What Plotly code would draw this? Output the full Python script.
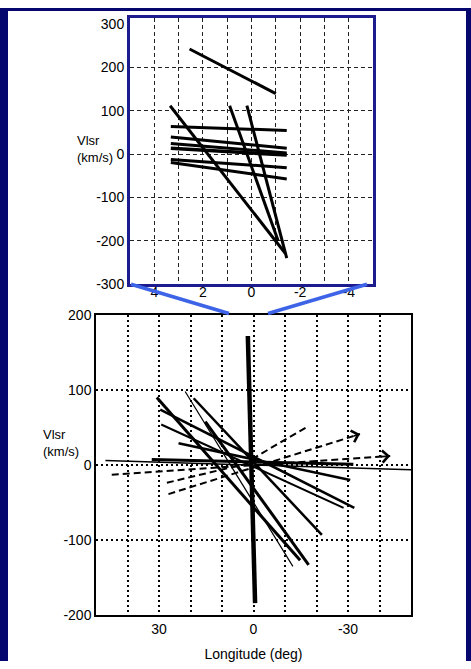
import plotly.graph_objects as go

W, H = 471, 669

# ---------- inset: central +/-5 deg of the longitude-velocity diagram ----------
inset_lon_start = [2.55, 3.35, 0.90, 0.19, 3.32, 3.32, 3.32, 3.32, 3.32, 3.32]
inset_vel_start = [243, 112, 112, 112, 64, 40, 25, 14, -12, -19]
inset_lon_end = [-1.00, -1.38, -1.10, -1.45, -1.45, -1.45, -1.45, -1.45, -1.45, -1.45]
inset_vel_end = [140, -228, -200, -240, 55, 14, 3, -2, -31, -57]
inset_width = [3, 3, 3, 3, 3, 3, 3, 3.5, 3, 3]

inset_xticks = [4, 2, 0, -2, -4]
inset_xgrid = [4, 3, 2, 1, 0, -1, -2, -3, -4]
inset_yticks = [-300, -200, -100, 0, 100, 200, 300]
inset_ygrid = [-200, -100, 0, 100, 200]

# ---------- full diagram: solid features ----------
solid_lon_start = [1.8, 30.7, 15.3, 21.7, 19.0, 29.6, 29.3, 23.8, 47.0, 32.3]
solid_vel_start = [172, 90, 58, 98, 89, 74, 54, 29, 6, 7.5]
solid_lon_end = [-0.5, -14.8, -17.5, -12.5, -21.7, -32.0, -28.6, -30.7, -50.6, -31.7]
solid_vel_end = [-184, -127, -133, -135, -93, -57, -57, -20, -6.5, 1]
solid_width = [4.5, 3, 3, 1.2, 2.5, 2.5, 2, 2.5, 1.5, 3]

# ---------- full diagram: dashed features (some with arrow heads) ----------
dashed_lon_start = [45.0, 27.0, 0.5, 27.5]
dashed_vel_start = [-12.8, -38.7, 8, -23.6]
dashed_lon_end = [-43.4, -33.8, -17.5, 0.0]
dashed_vel_end = [12, 41.3, 52, 4]
dashed_arrow = [True, True, False, False]

main_xticks = [30, 0, -30]
main_xgrid = [40, 30, 20, 10, 0, -10, -20, -30, -40]
main_yticks = [-200, -100, 0, 100, 200]

FONT = "Liberation Sans, Arial, sans-serif"
NAVY = "#06066f"
FRAME_BLUE = "#1c1c8e"
LINK_BLUE = "#3d63e6"

fig = go.Figure()

for i in range(len(inset_lon_start)):
    fig.add_trace(go.Scatter(
        x=[inset_lon_start[i], inset_lon_end[i]],
        y=[inset_vel_start[i], inset_vel_end[i]],
        mode="lines", line=dict(color="black", width=inset_width[i]),
        xaxis="x", yaxis="y", showlegend=False, hoverinfo="skip"))

for i in range(len(solid_lon_start)):
    fig.add_trace(go.Scatter(
        x=[solid_lon_start[i], solid_lon_end[i]],
        y=[solid_vel_start[i], solid_vel_end[i]],
        mode="lines", line=dict(color="black", width=solid_width[i]),
        xaxis="x2", yaxis="y2", showlegend=False, hoverinfo="skip"))

for i in range(len(dashed_lon_start)):
    fig.add_trace(go.Scatter(
        x=[dashed_lon_start[i], dashed_lon_end[i]],
        y=[dashed_vel_start[i], dashed_vel_end[i]],
        mode="lines", line=dict(color="black", width=2, dash="7px,4px"),
        xaxis="x2", yaxis="y2", showlegend=False, hoverinfo="skip"))
    if dashed_arrow[i]:
        dx = dashed_lon_end[i] - dashed_lon_start[i]
        dy = dashed_vel_end[i] - dashed_vel_start[i]
        fig.add_annotation(
            x=dashed_lon_end[i], y=dashed_vel_end[i],
            ax=dashed_lon_end[i] - 0.04 * dx, ay=dashed_vel_end[i] - 0.04 * dy,
            xref="x2", yref="y2", axref="x2", ayref="y2",
            text="", showarrow=True, arrowhead=4, arrowsize=1.3,
            arrowwidth=1.8, arrowcolor="black")

tick_font = dict(family=FONT, size=14, color="black")

fig.update_layout(
    width=W, height=H,
    margin=dict(l=0, r=0, t=0, b=0),
    paper_bgcolor="white", plot_bgcolor="white",
    showlegend=False,
    xaxis=dict(
        domain=[130 / W, 373 / W], anchor="y",
        range=[5, -5], tickvals=inset_xticks, ticktext=[str(v) for v in inset_xticks],
        showgrid=False, zeroline=False, ticks="", tickfont=tick_font,
        ticklabelstandoff=-7,
        showline=True, mirror=True, linecolor=FRAME_BLUE, linewidth=3,
        minor=dict(tickvals=inset_xgrid, showgrid=True, gridcolor="#222",
                   griddash="4px,3px", gridwidth=1, ticks=""),
    ),
    yaxis=dict(
        domain=[1 - 283 / H, 1 - 10 / H], anchor="x",
        range=[-300, 315], tickvals=inset_yticks, ticktext=[str(v) for v in inset_yticks],
        showgrid=False, zeroline=False, ticks="", tickfont=tick_font,
        showline=True, mirror=True, linecolor=FRAME_BLUE, linewidth=3,
        minor=dict(tickvals=inset_ygrid, showgrid=True, gridcolor="#222",
                   griddash="4px,3px", gridwidth=1, ticks=""),
    ),
    xaxis2=dict(
        domain=[96 / W, 411 / W], anchor="y2",
        range=[50, -50], tickvals=main_xticks, ticktext=[str(v) for v in main_xticks],
        showgrid=False, zeroline=False, ticks="", tickfont=tick_font,
        showline=True, mirror=True, linecolor="black", linewidth=1.5,
        minor=dict(tickvals=main_xgrid, showgrid=True, gridcolor="black",
                   griddash="2px,3px", gridwidth=1.5, ticks=""),
        title=dict(text="Longitude (deg)", font=dict(family=FONT, size=14, color="black"),
                   standoff=14),
    ),
    yaxis2=dict(
        domain=[1 - 622 / H, 1 - 314.5 / H], anchor="x2",
        range=[-200, 200], tickvals=main_yticks, ticktext=[str(v) for v in main_yticks],
        showgrid=True, gridcolor="black", griddash="2px,3px", gridwidth=1.5,
        zeroline=False, ticks="", tickfont=tick_font,
        showline=True, mirror=True, linecolor="black", linewidth=1.5,
    ),
)

# navy page border on the left, top and right edges
for x0, x1, y0, y1 in [(0, 8, 0, H), (0, W, 0, 3), (466, W, 0, H)]:
    fig.add_shape(type="rect", xref="paper", yref="paper",
                  x0=x0 / W, x1=x1 / W, y0=1 - y1 / H, y1=1 - y0 / H,
                  fillcolor=NAVY, line=dict(width=0), layer="below")

# zoom connectors from the inset to the full diagram
fig.add_shape(type="line", xref="paper", yref="paper",
              x0=131 / W, y0=1 - 283 / H, x1=229 / W, y1=1 - 313 / H,
              line=dict(color=LINK_BLUE, width=3.5))
fig.add_shape(type="line", xref="paper", yref="paper",
              x0=367 / W, y0=1 - 283 / H, x1=268 / W, y1=1 - 313 / H,
              line=dict(color=LINK_BLUE, width=3.5))

label_font = dict(family=FONT, size=13, color="black")
fig.add_annotation(text="Vlsr<br>(km/s)", xref="paper", yref="paper",
                   x=75 / W, y=1 - 144 / H, xanchor="left", yanchor="middle",
                   align="left", showarrow=False, font=label_font)
fig.add_annotation(text="Vlsr<br>(km/s)", xref="paper", yref="paper",
                   x=41 / W, y=1 - 446 / H, xanchor="left", yanchor="middle",
                   align="left", showarrow=False, font=label_font)

fig.write_html("out.html")
